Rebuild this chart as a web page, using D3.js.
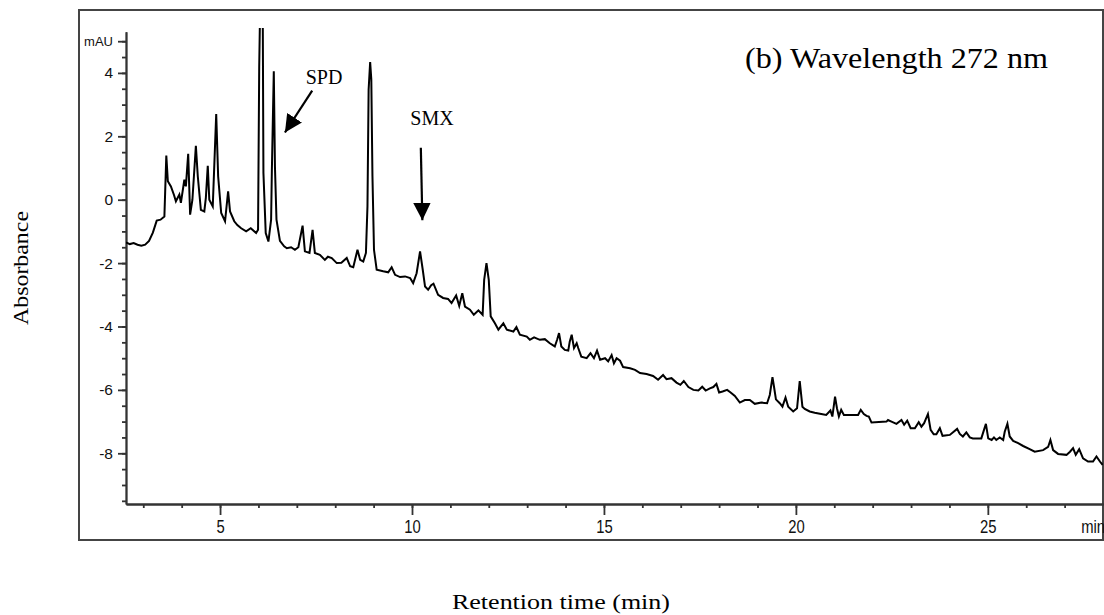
<!DOCTYPE html>
<html>
<head>
<meta charset="utf-8">
<script src="https://cdn.jsdelivr.net/npm/d3@7"></script>
<style>
  body { margin: 0; background: #fff; }
  .tick text { font-family: "Liberation Sans", Arial, sans-serif; fill: #111; }
</style>
</head>
<body>
<svg id="grafico"></svg>
<script>
// retention time (min) and signal (mAU)
const tempo = [
  2.55, 2.65, 2.75, 2.85, 2.95, 3.05, 3.15, 3.25, 3.35, 3.45, 3.55, 3.60, 3.64, 3.72, 3.80, 3.85, 3.94, 3.98,
  4.07, 4.11, 4.17, 4.22, 4.28, 4.37, 4.42, 4.50, 4.59, 4.63, 4.68, 4.72, 4.81, 4.90, 4.95, 5.03, 5.13, 5.21,
  5.26, 5.37, 5.45, 5.55, 5.68, 5.80, 5.94, 5.99, 6.02, 6.05, 6.11, 6.13, 6.19, 6.26, 6.33, 6.35, 6.40, 6.43,
  6.47, 6.56, 6.67, 6.74, 6.85, 6.95, 7.04, 7.15, 7.21, 7.33, 7.41, 7.47, 7.60, 7.73, 7.81, 7.91, 8.04, 8.16,
  8.30, 8.39, 8.47, 8.58, 8.65, 8.73, 8.80, 8.84, 8.87, 8.91, 8.94, 8.97, 9.01, 9.08, 9.25, 9.38, 9.47, 9.56,
  9.69, 9.82, 9.95, 10.03, 10.12, 10.21, 10.28, 10.34, 10.42, 10.50, 10.56, 10.68, 10.81, 10.94, 11.03, 11.15,
  11.23, 11.31, 11.38, 11.51, 11.61, 11.73, 11.84, 11.88, 11.94, 12.00, 12.05, 12.16, 12.25, 12.38, 12.47,
  12.64, 12.72, 12.81, 12.99, 13.07, 13.18, 13.33, 13.46, 13.59, 13.72, 13.78, 13.83, 13.89, 13.98, 14.07,
  14.11, 14.16, 14.22, 14.29, 14.33, 14.41, 14.55, 14.65, 14.74, 14.82, 14.90, 15.03, 15.11, 15.20, 15.26,
  15.33, 15.42, 15.50, 15.68, 15.81, 15.94, 16.11, 16.28, 16.41, 16.54, 16.63, 16.76, 16.89, 16.99, 17.08,
  17.20, 17.33, 17.46, 17.56, 17.65, 17.76, 17.85, 17.93, 18.00, 18.09, 18.21, 18.30, 18.41, 18.54, 18.67,
  18.80, 18.93, 19.10, 19.25, 19.32, 19.39, 19.43, 19.48, 19.58, 19.65, 19.73, 19.80, 19.93, 20.03, 20.10,
  20.17, 20.23, 20.36, 20.49, 20.66, 20.79, 20.90, 20.95, 21.02, 21.07, 21.12, 21.18, 21.25, 21.49, 21.62,
  21.69, 21.77, 21.84, 21.90, 21.97, 22.36, 22.40, 22.49, 22.62, 22.75, 22.82, 22.90, 22.99, 23.10, 23.20,
  23.27, 23.34, 23.44, 23.51, 23.59, 23.66, 23.75, 23.82, 24.01, 24.20, 24.27, 24.35, 24.44, 24.53, 24.61,
  24.83, 24.90, 24.95, 25.01, 25.10, 25.16, 25.22, 25.31, 25.40, 25.44, 25.51, 25.57, 25.66, 25.79, 25.92,
  26.09, 26.22, 26.44, 26.57, 26.63, 26.70, 26.83, 27.05, 27.14, 27.22, 27.29, 27.38, 27.48, 27.61, 27.74,
  27.83, 27.92, 27.99
];
const sinal = [
  -1.35, -1.40, -1.37, -1.42, -1.45, -1.42, -1.30, -1.04, -0.66, -0.63, -0.53, 1.39, 0.58, 0.42, 0.15, -0.05, 0.16, -0.10,
  0.63, 0.42, 1.45, -0.47, 0.00, 1.70, 0.74, -0.32, -0.37, 0.06, 1.07, 0.00, -0.21, 2.70, 0.74, -0.42, -0.68, 0.26,
  -0.37, -0.68, -0.80, -0.90, -1.00, -0.90, -1.05, -0.95, 4.20, 6.50, 6.50, 0.84, -1.05, -1.32, -0.63, 0.95, 4.05, 1.05,
  -0.63, -1.30, -1.47, -1.53, -1.50, -1.58, -1.50, -0.82, -1.63, -1.68, -0.95, -1.68, -1.74, -1.90, -1.80, -1.84, -2.00, -1.99,
  -1.84, -2.10, -2.13, -1.58, -1.90, -1.95, -1.68, -0.21, 3.47, 4.34, 3.79, 0.74, -1.58, -2.21, -2.26, -2.29, -2.13, -2.37,
  -2.44, -2.42, -2.47, -2.63, -2.32, -1.63, -2.21, -2.74, -2.84, -2.70, -2.65, -3.00, -3.10, -3.13, -3.26, -3.02,
  -3.35, -2.95, -3.37, -3.47, -3.63, -3.49, -3.63, -2.53, -2.00, -2.53, -3.68, -3.90, -4.10, -3.90, -4.10,
  -4.16, -4.02, -4.26, -4.32, -4.42, -4.34, -4.42, -4.40, -4.53, -4.63, -4.42, -4.21, -4.63, -4.74, -4.76,
  -4.47, -4.26, -4.68, -4.53, -4.68, -4.95, -5.00, -4.84, -5.00, -4.76, -5.05, -5.00, -5.10, -4.90, -5.16,
  -5.00, -5.08, -5.28, -5.32, -5.37, -5.47, -5.50, -5.56, -5.68, -5.53, -5.66, -5.63, -5.77, -5.84, -5.72,
  -5.91, -6.00, -6.02, -5.90, -6.02, -5.95, -5.91, -5.81, -6.08, -6.05, -6.00, -6.08, -6.19, -6.40, -6.32,
  -6.32, -6.44, -6.40, -6.42, -6.16, -5.60, -5.90, -6.30, -6.42, -6.53, -6.24, -6.53, -6.68, -6.58, -5.72,
  -6.53, -6.60, -6.68, -6.72, -6.76, -6.79, -6.65, -6.84, -6.21, -6.58, -6.84, -6.63, -6.79, -6.79, -6.79,
  -6.63, -6.76, -6.82, -6.84, -7.03, -7.00, -6.95, -7.00, -7.07, -6.95, -7.10, -6.97, -7.21, -7.21, -7.02,
  -7.16, -7.05, -6.76, -7.26, -7.40, -7.40, -7.21, -7.45, -7.42, -7.23, -7.39, -7.47, -7.34, -7.50, -7.53,
  -7.53, -7.26, -7.07, -7.53, -7.58, -7.50, -7.58, -7.50, -7.58, -7.32, -7.07, -7.47, -7.61, -7.68, -7.77,
  -7.87, -7.95, -7.90, -7.80, -7.58, -7.90, -8.02, -8.05, -7.95, -7.84, -8.05, -7.87, -8.16, -8.26, -8.26,
  -8.10, -8.26, -8.37
];

const ticksXMaiores = [5, 10, 15, 20, 25];
const ticksXMenores = d3.range(3, 28, 1);
const ticksYMaiores = [-8, -6, -4, -2, 0, 2, 4, 5];
const ticksYMenores = d3.range(-9.5, 5.01, 0.5);
const rotuloUnidadeY = 'mAU';
const rotuloUnidadeX = 'min';

const largura = 1104, altura = 615;
const svg = d3.select('#grafico').attr('width', largura).attr('height', altura);

// moldura externa
svg.append('rect')
  .attr('x', 79).attr('y', 10)
  .attr('width', 1024).attr('height', 530)
  .attr('fill', 'none').attr('stroke', '#444').attr('stroke-width', 2);

const fnX = d3.scaleLinear().domain([2.55, 28]).range([126, 1103]);
const fnY = d3.scaleLinear().domain([-9.6, 5.3]).range([504, 31.7]);

// eixo Y
const eixoYMenor = d3.axisLeft(fnY).tickValues(ticksYMenores).tickSize(4).tickSizeOuter(0).tickFormat('');
svg.append('g').attr('transform', 'translate(126,0)').call(eixoYMenor);
const eixoY = d3.axisLeft(fnY).tickValues(ticksYMaiores).tickSize(8).tickSizeOuter(0).tickPadding(5)
  .tickFormat(d => d === 5 ? rotuloUnidadeY : d);
const gY = svg.append('g').attr('transform', 'translate(126,0)').call(eixoY);
gY.selectAll('text').style('font-size', '15.5px');
gY.selectAll('.tick').filter(d => d === 5).select('text').style('font-size', '13px');

// eixo X
const eixoXMenor = d3.axisBottom(fnX).tickValues(ticksXMenores).tickSize(4).tickSizeOuter(0).tickFormat('');
svg.append('g').attr('transform', 'translate(0,504)').call(eixoXMenor);
const eixoX = d3.axisBottom(fnX).tickValues(ticksXMaiores).tickSize(11).tickSizeOuter(0).tickPadding(5);
const gX = svg.append('g').attr('transform', 'translate(0,504)').call(eixoX);
gX.selectAll('text').style('font-size', '19px').attr('transform', 'scale(0.78,1)');
svg.append('text')
  .attr('x', 0).attr('y', 0)
  .attr('transform', 'translate(1105,' + (504 + 16 + 13) + ') scale(0.78,1)')
  .attr('text-anchor', 'end')
  .style('font-family', '"Liberation Sans", Arial, sans-serif')
  .style('font-size', '19px').attr('fill', '#111')
  .text(rotuloUnidadeX);

svg.selectAll('.domain, .tick line').attr('stroke', '#333').attr('stroke-width', 1.8);

// cromatograma
svg.append('clipPath').attr('id', 'recorte')
  .append('rect')
  .attr('x', 126).attr('y', fnY(5.42))
  .attr('width', 1103 - 126).attr('height', 504 - fnY(5.42));

const linha = d3.line().x((d, i) => fnX(tempo[i])).y(d => fnY(d));
svg.append('path')
  .datum(sinal)
  .attr('clip-path', 'url(#recorte)')
  .attr('fill', 'none')
  .attr('stroke', '#000')
  .attr('stroke-width', 2)
  .attr('stroke-linejoin', 'miter')
  .attr('d', linha);

// anotações
svg.append('defs').append('marker')
  .attr('id', 'ponta')
  .attr('viewBox', '0 0 10 10')
  .attr('refX', 10).attr('refY', 5)
  .attr('markerWidth', 8).attr('markerHeight', 8)
  .attr('markerUnits', 'strokeWidth')
  .attr('orient', 'auto')
  .append('path').attr('d', 'M0,0 L10,5 L0,10 z').attr('fill', '#000');

const setas = [
  { de: [7.40, 3.44], para: [6.69, 2.12] },
  { de: [10.23, 1.64], para: [10.27, -0.65] }
];
svg.selectAll('.seta').data(setas).enter().append('line')
  .classed('seta', true)
  .attr('x1', d => fnX(d.de[0])).attr('y1', d => fnY(d.de[1]))
  .attr('x2', d => fnX(d.para[0])).attr('y2', d => fnY(d.para[1]))
  .attr('stroke', '#000').attr('stroke-width', 2.2)
  .attr('marker-end', 'url(#ponta)');

const serif = '"Liberation Serif", "Times New Roman", serif';
svg.append('text').attr('x', fnX(7.71)).attr('y', fnY(3.66))
  .attr('text-anchor', 'middle').style('font-family', serif).style('font-size', '20px').text('SPD');
svg.append('text').attr('x', fnX(10.52)).attr('y', fnY(2.37))
  .attr('text-anchor', 'middle').style('font-family', serif).style('font-size', '20px').text('SMX');
svg.append('text').attr('x', 745).attr('y', 68)
  .style('font-family', serif).style('font-size', '30px')
  .attr('textLength', 303).attr('lengthAdjust', 'spacingAndGlyphs')
  .text('(b) Wavelength 272 nm');

// títulos dos eixos
svg.append('text')
  .attr('transform', 'translate(28,268) rotate(-90)')
  .attr('text-anchor', 'middle')
  .style('font-family', serif).style('font-size', '20px')
  .attr('textLength', 114).attr('lengthAdjust', 'spacingAndGlyphs')
  .text('Absorbance');
svg.append('text')
  .attr('x', 561).attr('y', 609)
  .attr('text-anchor', 'middle')
  .style('font-family', serif).style('font-size', '21px')
  .attr('textLength', 218).attr('lengthAdjust', 'spacingAndGlyphs')
  .text('Retention time (min)');
</script>
</body>
</html>
